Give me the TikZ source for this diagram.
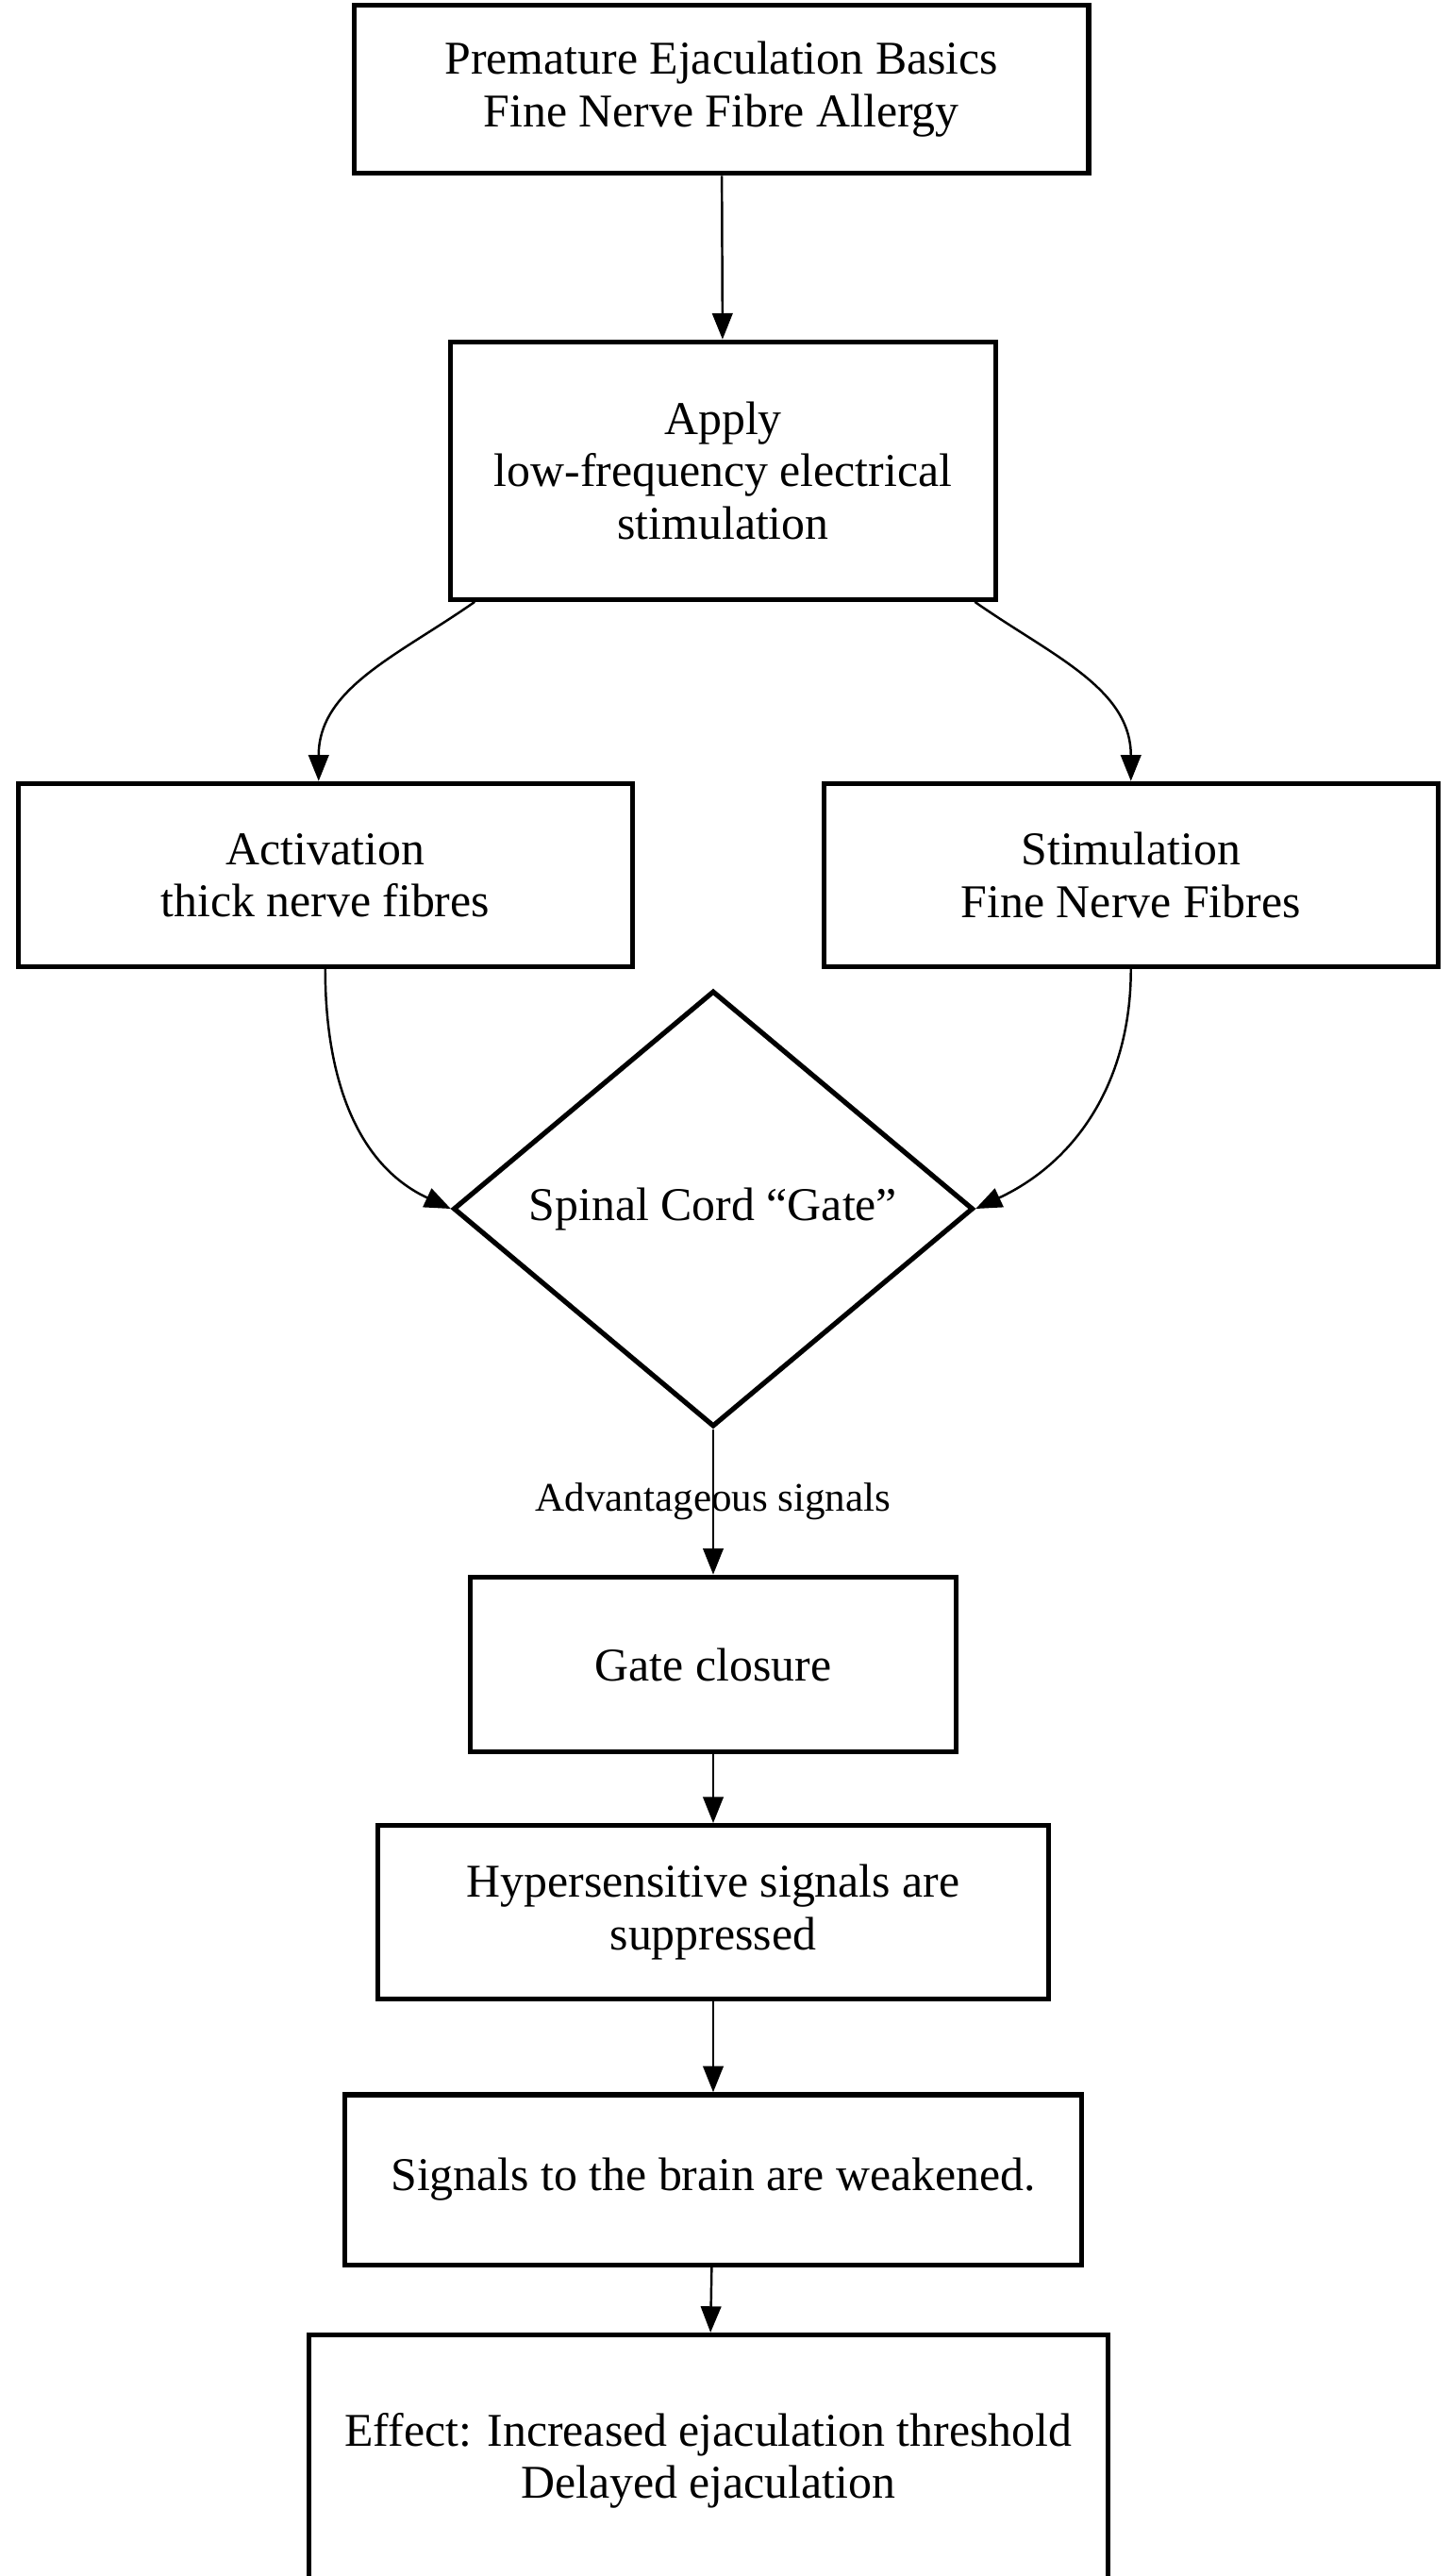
\documentclass[tikz,border=0pt]{standalone}
\usepackage{fontspec}
\setmainfont{Liberation Serif}
\usetikzlibrary{shapes.geometric,arrows.meta}
\tikzset{
  stepbox/.style={draw, line width=1.7pt, align=center, inner sep=0pt,
    font=\fontsize{16.2}{18}\selectfont},
  arr/.style={-{Triangle[length=9pt,width=7pt]}, line width=0.8pt}
}
\begin{document}
\begin{tikzpicture}[x=0.02cm, y=-0.02cm]
  \useasboundingbox[fill=white] (0,0) rectangle (878,1560);
  % boxes
  \node[stepbox, minimum width=8.9cm, minimum height=2.04cm] (basics) at (437,54)
    {Premature Ejaculation Basics\\Fine Nerve Fibre Allergy};
  \node[stepbox, minimum width=6.6cm, minimum height=3.12cm] (apply) at (438,285)
    {Apply\\low-frequency electrical\\stimulation};
  \node[stepbox, minimum width=7.44cm, minimum height=2.22cm] (thick) at (197,530)
    {Activation\\thick nerve fibres};
  \node[stepbox, minimum width=7.44cm, minimum height=2.22cm] (fine) at (685,530)
    {Stimulation\\Fine Nerve Fibres};
  \node[stepbox, diamond, minimum width=6.3cm, minimum height=5.28cm] (gate) at (432,732)
    {Spinal Cord “Gate”};
  \node[stepbox, minimum width=5.88cm, minimum height=2.12cm] (closure) at (432,1008)
    {Gate closure};
  \node[stepbox, minimum width=8.12cm, minimum height=2.1cm] (suppress) at (432,1158)
    {Hypersensitive signals are\\suppressed};
  \node[stepbox, minimum width=8.92cm, minimum height=2.06cm] (brain) at (432,1320)
    {Signals to the brain are weakened.};
  \node[stepbox, minimum width=9.68cm, minimum height=3.04cm] (effect) at (429,1490)
    {Effect: Increased ejaculation threshold\\Delayed ejaculation};
  % connectors
  \draw[arr] (basics) -- (apply);
  \draw[arr] ([xshift=0.32cm]apply.south west) to[out=215,in=90] ([xshift=-0.08cm]thick.north);
  \draw[arr] ([xshift=-0.28cm]apply.south east) to[out=-35,in=90] (fine.north);
  \draw[arr] (thick.south) to[out=-90,in=155] (gate.west);
  \draw[arr] (fine.south) to[out=-90,in=25] (gate.east);
  \draw[arr] (gate.south) -- node[pos=0.5, font=\fontsize{14}{16}\selectfont] {Advantageous signals} (closure.north);
  \draw[arr] (closure) -- (suppress);
  \draw[arr] (suppress) -- (brain);
  \draw[arr] (brain) -- (effect);
\end{tikzpicture}
\end{document}
